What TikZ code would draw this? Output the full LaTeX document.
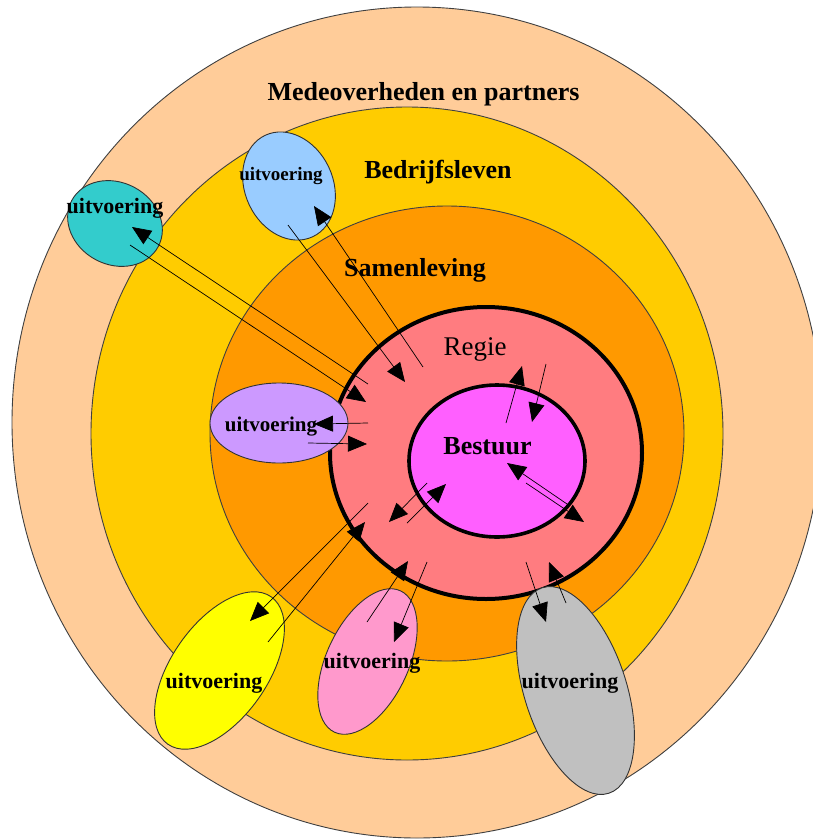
\documentclass[tikz,border=0pt]{standalone}
\usepackage{fontspec}
\setmainfont{Liberation Serif}
\usetikzlibrary{arrows.meta}
\definecolor{peach}{HTML}{FFCC99}
\definecolor{gold}{HTML}{FFCC00}
\definecolor{orng}{HTML}{FF9900}
\definecolor{regiec}{HTML}{FF7C80}
\definecolor{bestc}{HTML}{FF5FFF}
\definecolor{lblue}{HTML}{99CCFF}
\definecolor{teal2}{HTML}{33CCCC}
\definecolor{lav}{HTML}{CC99FF}
\definecolor{yel}{HTML}{FFFF00}
\definecolor{pnk}{HTML}{FF99CC}
\definecolor{gry}{HTML}{C0C0C0}
\begin{document}
\begin{tikzpicture}[x=1pt,y=1pt,
  ring/.style={draw=black!75, line width=0.9pt},
  core/.style={draw=black, line width=4pt},
  blob/.style={draw=black!80, line width=0.9pt},
  lbl/.style={font=\bfseries\fontsize{26}{30}\selectfont, anchor=base, inner sep=0pt},
  lblr/.style={font=\fontsize{27}{31}\selectfont, anchor=base, inner sep=0pt},
  uitv/.style={font=\bfseries\fontsize{22}{26}\selectfont, anchor=base, inner sep=0pt},
  arr/.style={-{Triangle[length=19pt,width=16pt]}, line width=0.7pt}
]
\useasboundingbox (0,0) rectangle (813,-839);
\clip (0,0) rectangle (813,-839);
\fill[white] (0,0) rectangle (813,-839);

% centres
\coordinate (cout) at (417,-422.5);
\coordinate (cbed) at (407,-433.5);
\coordinate (csam) at (447,-433.5);
\coordinate (creg) at (486,-453);
\coordinate (cbes) at (497,-461);
\coordinate (ccyan) at (115,-223.5);
\coordinate (cblue) at (289,-186);
\coordinate (clav) at (279,-423);
\coordinate (cyel) at (219.5,-670.5);
\coordinate (cpink) at (367.5,-661.5);
\coordinate (cgray) at (575.5,-690.5);

% rings
\draw[ring, fill=peach] (cout) ellipse [x radius=405, y radius=415.5];
\node[lbl] (mede) at (423.5,-100) {Medeoverheden en partners};
\draw[ring, fill=gold] (cbed) ellipse [x radius=316, y radius=326.5];
\draw[ring, fill=orng] (csam) ellipse [x radius=237, y radius=227.5];
\draw[core, fill=regiec] (creg) ellipse [x radius=156, y radius=146];
\draw[core, line width=3.6pt, fill=bestc] (cbes) ellipse [x radius=88, y radius=76];

% small ellipses
\draw[blob, fill=teal2, rotate around={-28:(ccyan)}] (ccyan) ellipse [x radius=49, y radius=41];
\draw[blob, fill=lblue, rotate around={25:(cblue)}] (cblue) ellipse [x radius=44, y radius=56];
\draw[blob, fill=lav] (clav) ellipse [x radius=69, y radius=40];
\draw[blob, fill=yel, rotate around={-35:(cyel)}] (cyel) ellipse [x radius=48, y radius=90];
\draw[blob, fill=pnk, rotate around={-25:(cpink)}] (cpink) ellipse [x radius=41, y radius=78];
\draw[blob, fill=gry, rotate around={18:(cgray)}] (cgray) ellipse [x radius=51, y radius=108];

% ring labels
\node[lbl] (bedr) at (438,-178) {Bedrijfsleven};
\node[lbl] (saml) at (415,-276) {Samenleving};
\node[lblr] (regie) at (475,-355) {Regie};
\node[lbl] (best) at (487.5,-454) {Bestuur};

% uitvoering labels
\node[uitv] (u1) at (115,-213) {uitvoering};
\node[uitv, font=\bfseries\fontsize{19}{23}\selectfont] (u2) at (281,-180) {uitvoering};
\node[uitv, font=\bfseries\fontsize{21}{25}\selectfont] (u3) at (271,-431) {uitvoering};
\node[uitv] (u4) at (214,-688) {uitvoering};
\node[uitv] (u5) at (372,-668) {uitvoering};
\node[uitv] (u6) at (570,-688) {uitvoering};

% arrow end points
\coordinate (a1s) at (368,-384); \coordinate (a1e) at (132,-227);
\coordinate (a2s) at (130,-245); \coordinate (a2e) at (366,-402);
\coordinate (b1s) at (288,-225); \coordinate (b1e) at (405,-382);
\coordinate (b2s) at (423,-367); \coordinate (b2e) at (314,-206);
\coordinate (c1s) at (368,-423); \coordinate (c1e) at (314,-424);
\coordinate (c2s) at (308,-443); \coordinate (c2e) at (367,-444);
\coordinate (d1s) at (506,-423); \coordinate (d1e) at (522,-366);
\coordinate (d2s) at (546,-364); \coordinate (d2e) at (532,-422);
\coordinate (e1s) at (427,-483); \coordinate (e1e) at (389,-522);
\coordinate (e2s) at (407,-523); \coordinate (e2e) at (446,-484);
\coordinate (f1s) at (567,-504); \coordinate (f1e) at (507,-463);
\coordinate (f2s) at (526,-483); \coordinate (f2e) at (584,-522);
\coordinate (g1s) at (368,-503); \coordinate (g1e) at (250,-621);
\coordinate (g2s) at (268,-642); \coordinate (g2e) at (365,-522);
\coordinate (h1s) at (367,-622); \coordinate (h1e) at (408,-561);
\coordinate (h2s) at (427,-562); \coordinate (h2e) at (394,-642);
\coordinate (i1s) at (526,-562); \coordinate (i1e) at (546,-622);
\coordinate (i2s) at (566,-603); \coordinate (i2e) at (549,-562);

\foreach \p in {a1,a2,b1,b2,c1,c2,d1,d2,e1,e2,f1,f2,g1,g2,h1,h2,i1,i2}
  \draw[arr] (\p s) -- (\p e);
\end{tikzpicture}
\end{document}
